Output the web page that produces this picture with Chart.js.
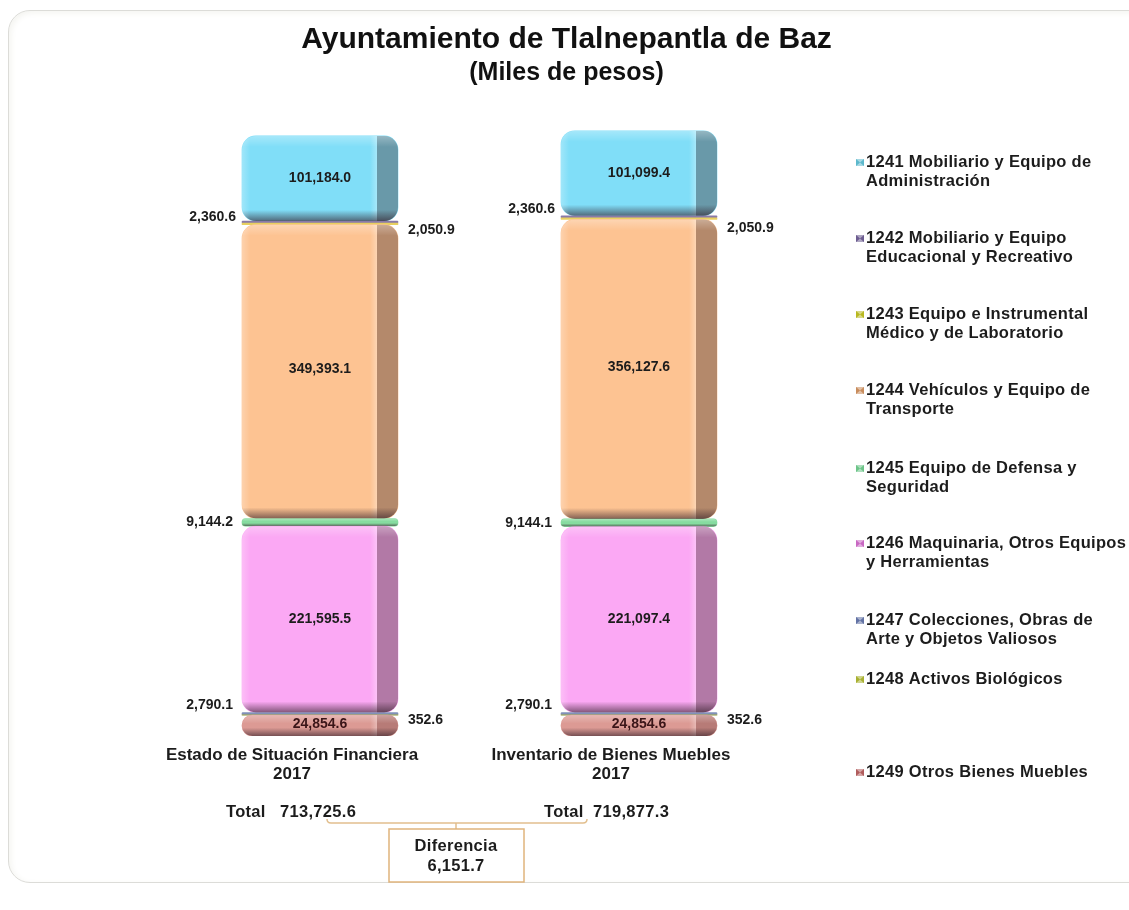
<!DOCTYPE html>
<html lang="es">
<head>
<meta charset="utf-8">
<title>Ayuntamiento de Tlalnepantla de Baz</title>
<script src="https://cdn.jsdelivr.net/npm/chart.js@4"></script>
<style>
  html, body { margin: 0; padding: 0; background: #fff; overflow: hidden; }
  #frame { position: absolute; left: 8px; top: 10px; width: 1300px; height: 871px; border: 1px solid #dcdcd8; border-radius: 22px; box-shadow: inset 2px 2px 6px #f4f4f0; }
  #myChart { position: absolute; left: 0; top: 0; }
</style>
</head>
<body>
<div id="frame"></div>
<canvas id="myChart" width="1129" height="910"></canvas>
<script>
const categories = [
  ["Estado de Situación Financiera", "2017"],
  ["Inventario de Bienes Muebles", "2017"],
];
const codes = ["1249", "1248", "1247", "1246", "1245", "1244", "1243", "1242", "1241"];

const otrosBienes = [24854.6, 24854.6];
const activosBiologicos = [352.6, 352.6];
const colecciones = [2790.1, 2790.1];
const maquinaria = [221595.5, 221097.4];
const defensa = [9144.2, 9144.1];
const vehiculos = [349393.1, 356127.6];
const instrumental = [2050.9, 2050.9];
const educacional = [2360.6, 2360.6];
const administracion = [101184.0, 101099.4];
const seriesValues = [otrosBienes, activosBiologicos, colecciones, maquinaria, defensa, vehiculos, instrumental, educacional, administracion];

const totals = [713725.6, 719877.3];
const diferencia = 6151.7;

const legendLabels = [
  ["1241 Mobiliario y Equipo de", "Administración"],
  ["1242 Mobiliario y Equipo", "Educacional y Recreativo"],
  ["1243 Equipo e Instrumental", "Médico y de Laboratorio"],
  ["1244 Vehículos y Equipo de", "Transporte"],
  ["1245 Equipo de Defensa y", "Seguridad"],
  ["1246 Maquinaria, Otros Equipos", "y Herramientas"],
  ["1247 Colecciones, Obras de", "Arte y Objetos Valiosos"],
  ["1248 Activos Biológicos"],
  ["1249 Otros Bienes Muebles"],
];

// look of the chart, same order as codes
const fillColors = ["#dc9a94", "#a9b04a", "#8090b8", "#fba8f4", "#86dca0", "#fdc392", "#e8d060", "#8a7aa8", "#80def8"];
const legendColors = ["#b05c5c", "#a8b030", "#6272a4", "#c868c2", "#6cc488", "#c88c5c", "#b8b820", "#6c5c90", "#5cb8cc"];
const legendRows = { 1241: 162, 1242: 238, 1243: 314, 1244: 390, 1245: 468, 1246: 543, 1247: 620, 1248: 679, 1249: 772 };
// side of the value label and vertical nudge for each bar
const labelPlace = {
  1249: ["center", -1, -1],
  1248: ["right", 5, 5],
  1247: ["left", -8, -8],
  1246: ["center", 0, 0],
  1245: ["left", 0, 0],
  1244: ["center", -2, -2],
  1243: ["right", 6, 10],
  1242: ["left", -5, -8],
  1241: ["center", 0, 0],
};
const TEXT = "#1c1c1c";
const FONT = '"Liberation Sans", Arial, sans-serif';

function fmt(n) {
  return n.toLocaleString("en-US", { minimumFractionDigits: 1, maximumFractionDigits: 1 });
}

function barBox(el) {
  const top = Math.min(el.y, el.base);
  const h = Math.abs(el.base - el.y);
  return { x: el.x - el.width / 2, y: top, w: el.width, h: h };
}

// bevel and side shading drawn over each bar element
const bevelPlugin = {
  id: "bevel",
  afterDatasetsDraw(chart) {
    const ctx = chart.ctx;
    chart.data.datasets.forEach((ds, i) => {
      chart.getDatasetMeta(i).data.forEach((el) => {
        const b = barBox(el);
        if (b.h < 5) return;
        const r = Math.min(14, b.h / 2);
        ctx.save();
        ctx.beginPath();
        ctx.roundRect(b.x, b.y, b.w, b.h, r);
        ctx.clip();

        if (b.h > 12) {
          const sideX = b.x + b.w - 21;
          let s = ctx.createLinearGradient(sideX - 7, 0, sideX, 0);
          s.addColorStop(0, "rgba(255,255,255,0)");
          s.addColorStop(1, "rgba(255,255,255,0.3)");
          ctx.fillStyle = s;
          ctx.fillRect(sideX - 7, b.y, 7, b.h);
          ctx.fillStyle = b.h > 30 ? "rgba(70,50,50,0.4)" : "rgba(70,30,30,0.25)";
          ctx.fillRect(sideX, b.y, 21, b.h);
        }

        const edge = Math.min(11, b.h * 0.4);
        let g = ctx.createLinearGradient(0, b.y, 0, b.y + edge);
        g.addColorStop(0, "rgba(255,255,255,0.3)");
        g.addColorStop(1, "rgba(255,255,255,0)");
        ctx.fillStyle = g;
        ctx.fillRect(b.x, b.y, b.w, edge);
        g = ctx.createLinearGradient(0, b.y + b.h - edge, 0, b.y + b.h);
        g.addColorStop(0, "rgba(50,30,40,0)");
        g.addColorStop(1, "rgba(50,30,40,0.6)");
        ctx.fillStyle = g;
        ctx.fillRect(b.x, b.y + b.h - edge, b.w, edge);

        if (b.h > 30) {
          g = ctx.createLinearGradient(b.x, 0, b.x + 8, 0);
          g.addColorStop(0, "rgba(255,255,255,0.25)");
          g.addColorStop(1, "rgba(255,255,255,0)");
          ctx.fillStyle = g;
          ctx.fillRect(b.x, b.y, 8, b.h);
        }
        ctx.restore();
      });
    });
  },
};

// value labels, legend, totals and the difference box
const textPlugin = {
  id: "texts",
  afterDraw(chart) {
    const ctx = chart.ctx;
    ctx.save();
    ctx.textBaseline = "middle";

    ctx.font = "bold 14px " + FONT;
    chart.data.datasets.forEach((ds, i) => {
      const place = labelPlace[codes[i]];
      chart.getDatasetMeta(i).data.forEach((el, j) => {
        const b = barBox(el);
        const y = b.y + b.h / 2 + place[j + 1];
        ctx.fillStyle = codes[i] === "1249" ? "#3a1518" : TEXT;
        if (place[0] === "center") {
          ctx.textAlign = "center";
          ctx.fillText(fmt(ds.data[j]), el.x, y);
        } else if (place[0] === "left") {
          ctx.textAlign = "right";
          ctx.fillText(fmt(ds.data[j]), b.x - (codes[i] === "1242" ? 6 : 9), y);
        } else {
          ctx.textAlign = "left";
          ctx.fillText(fmt(ds.data[j]), b.x + b.w + 10, y);
        }
      });
    });

    // legend
    ctx.textAlign = "left";
    ctx.font = "bold 16.5px " + FONT;
    ctx.letterSpacing = "0.3px";
    legendLabels.forEach((lines) => {
      const code = lines[0].slice(0, 4);
      const y = legendRows[code];
      const color = legendColors[codes.indexOf(code)];
      ctx.fillStyle = color;
      ctx.globalAlpha = 0.55;
      ctx.fillRect(856, y - 3, 8, 7);
      ctx.globalAlpha = 1;
      ctx.beginPath();
      ctx.moveTo(856, y - 3);
      ctx.lineTo(860, y + 0.5);
      ctx.lineTo(856, y + 4);
      ctx.moveTo(864, y - 3);
      ctx.lineTo(860, y + 0.5);
      ctx.lineTo(864, y + 4);
      ctx.fill();
      ctx.fillStyle = TEXT;
      lines.forEach((line, n) => ctx.fillText(line, 866, y + n * 19));
    });

    // totals
    ctx.textAlign = "left";
    ctx.fillText("Total", 226, 812);
    ctx.fillText(fmt(totals[0]), 280, 812);
    ctx.fillText("Total", 544, 812);
    ctx.fillText(fmt(totals[1]), 593, 812);

    // bracket
    ctx.strokeStyle = "#e2bf8e";
    ctx.lineWidth = 1.5;
    ctx.beginPath();
    ctx.moveTo(327, 819);
    ctx.quadraticCurveTo(327, 823, 331, 823);
    ctx.lineTo(583, 823);
    ctx.quadraticCurveTo(587, 823, 587, 819);
    ctx.moveTo(456, 823);
    ctx.lineTo(456, 829);
    ctx.stroke();

    // difference box
    ctx.fillStyle = "#fff";
    ctx.strokeStyle = "#e0b47c";
    ctx.fillRect(389, 829, 135, 53);
    ctx.strokeRect(389, 829, 135, 53);
    ctx.fillStyle = TEXT;
    ctx.textAlign = "center";
    ctx.fillText("Diferencia", 456, 846);
    ctx.fillText(fmt(diferencia), 456, 866);
    ctx.restore();
  },
};

const ctx = document.getElementById("myChart");

new Chart(ctx, {
  type: "bar",
  data: {
    labels: categories,
    datasets: codes.map((code, i) => ({
      label: code,
      data: seriesValues[i],
      backgroundColor: fillColors[i],
      barThickness: 156,
      borderWidth: 0,
      borderSkipped: false,
      borderRadius: { topLeft: 14, topRight: 14, bottomLeft: 14, bottomRight: 14 },
    })),
  },
  options: {
    responsive: false,
    animation: false,
    layout: { padding: { left: 4, right: 0, top: 0, bottom: 0 } },
    plugins: {
      legend: { display: false },
      tooltip: { enabled: false },
      title: {
        display: true,
        text: "Ayuntamiento de Tlalnepantla de Baz",
        color: "#111",
        font: { family: FONT, size: 30, weight: "bold", lineHeight: 1.1 },
        padding: { top: 23, bottom: 0 },
      },
      subtitle: {
        display: true,
        text: "(Miles de pesos)",
        color: "#111",
        font: { family: FONT, size: 25, weight: "bold", lineHeight: 1.1 },
        padding: { top: 3, bottom: 10.5 },
      },
    },
    scales: {
      x: {
        stacked: true,
        afterFit: (axis) => { axis.height = 174; },
        grid: { display: false, drawTicks: false },
        border: { display: false },
        ticks: {
          color: TEXT,
          padding: 10,
          labelOffset: -28,
          maxRotation: 0,
          font: { family: FONT, size: 17, weight: "bold", lineHeight: 1.1 },
        },
      },
      y: {
        stacked: true,
        min: 0,
        max: 760000,
        afterFit: (axis) => { axis.width = 156.5; },
        grid: { display: false },
        border: { display: false },
        ticks: { display: false },
      },
      // empty axis, only keeps the room for the legend on the right
      spacer: {
        position: "right",
        afterFit: (axis) => { axis.width = 330.5; },
        grid: { display: false },
        border: { display: false },
        ticks: { display: false },
      },
    },
  },
  plugins: [bevelPlugin, textPlugin],
});
</script>
</body>
</html>
